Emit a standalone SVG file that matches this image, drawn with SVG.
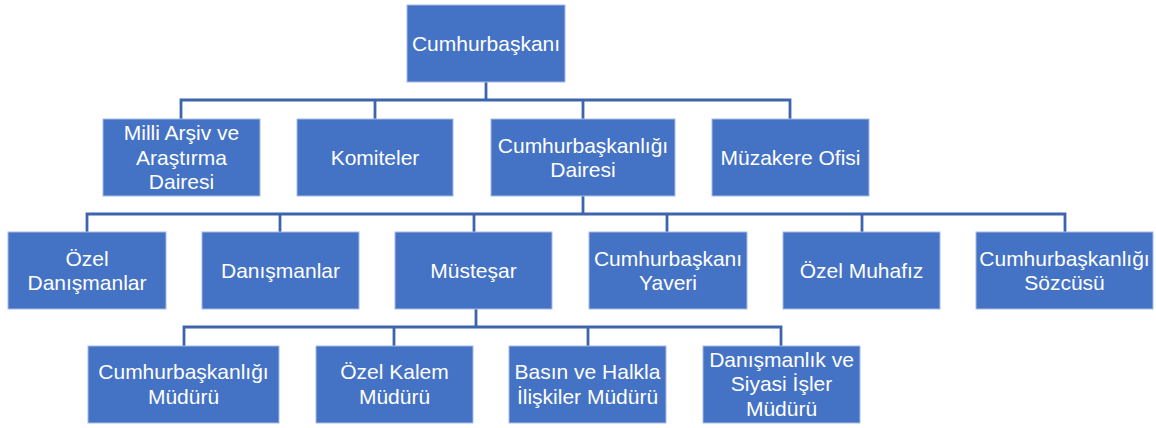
<svg xmlns="http://www.w3.org/2000/svg" width="1156" height="428" viewBox="0 0 1156 428">
<style>
.box{fill:#4472C4;stroke:#A7BCE3;stroke-width:1}
.t{font-family:"Liberation Sans","Noto Sans",sans-serif;font-size:21px;fill:#ffffff;text-anchor:middle}
.c{fill:none;stroke:#3D64AD;stroke-width:2.8}
</style>
<rect width="1156" height="428" fill="#ffffff"/>
<g id="connectors">
<path class="c" d="M486 82V100M181 119V100H790V119M375 100V119M583 100V119"/>
<path class="c" d="M583 196V214M87 232V214H1065V232M280 214V232M474 214V232M667 214V232M862 214V232"/>
<path class="c" d="M476 309V327M184 346V327H781V346M394 327V346M588 327V346"/>
</g>
<g id="n0"><rect class="box" x="407" y="5" width="158" height="77"/><text class="t" x="486" y="51">Cumhurbaşkanı</text></g>
<g id="n1"><rect class="box" x="103" y="119" width="157" height="77"/><text class="t" x="181.5" y="140">Milli Arşiv ve</text><text class="t" x="181.5" y="164.5">Araştırma</text><text class="t" x="181.5" y="189">Dairesi</text></g>
<g id="n2"><rect class="box" x="297" y="119" width="156" height="77"/><text class="t" x="375" y="165">Komiteler</text></g>
<g id="n3"><rect class="box" x="491" y="119" width="184" height="77"/><text class="t" x="583" y="152.5">Cumhurbaşkanlığı</text><text class="t" x="583" y="177">Dairesi</text></g>
<g id="n4"><rect class="box" x="712" y="119" width="157" height="77"/><text class="t" x="790.5" y="165">Müzakere Ofisi</text></g>
<g id="n5"><rect class="box" x="8" y="232" width="158" height="77"/><text class="t" x="87" y="265.5">Özel</text><text class="t" x="87" y="290">Danışmanlar</text></g>
<g id="n6"><rect class="box" x="202" y="232" width="157" height="77"/><text class="t" x="280.5" y="278">Danışmanlar</text></g>
<g id="n7"><rect class="box" x="395" y="232" width="157" height="77"/><text class="t" x="473.5" y="278">Müsteşar</text></g>
<g id="n8"><rect class="box" x="589" y="232" width="158" height="77"/><text class="t" x="668" y="265.5">Cumhurbaşkanı</text><text class="t" x="668" y="290">Yaveri</text></g>
<g id="n9"><rect class="box" x="783" y="232" width="157" height="77"/><text class="t" x="861.5" y="278">Özel Muhafız</text></g>
<g id="n10"><rect class="box" x="976" y="232" width="177" height="77"/><text class="t" x="1064.5" y="265.5">Cumhurbaşkanlığı</text><text class="t" x="1064.5" y="290">Sözcüsü</text></g>
<g id="n11"><rect class="box" x="88" y="346" width="191" height="77"/><text class="t" x="183.5" y="379">Cumhurbaşkanlığı</text><text class="t" x="183.5" y="403.5">Müdürü</text></g>
<g id="n12"><rect class="box" x="316" y="346" width="157" height="77"/><text class="t" x="394.5" y="379">Özel Kalem</text><text class="t" x="394.5" y="403.5">Müdürü</text></g>
<g id="n13"><rect class="box" x="509" y="346" width="157" height="77"/><text class="t" x="587.5" y="379">Basın ve Halkla</text><text class="t" x="587.5" y="403.5">İlişkiler Müdürü</text></g>
<g id="n14"><rect class="box" x="703" y="346" width="157" height="77"/><text class="t" x="781.5" y="366.5">Danışmanlık ve</text><text class="t" x="781.5" y="391">Siyasi İşler</text><text class="t" x="781.5" y="415.5">Müdürü</text></g>
</svg>
